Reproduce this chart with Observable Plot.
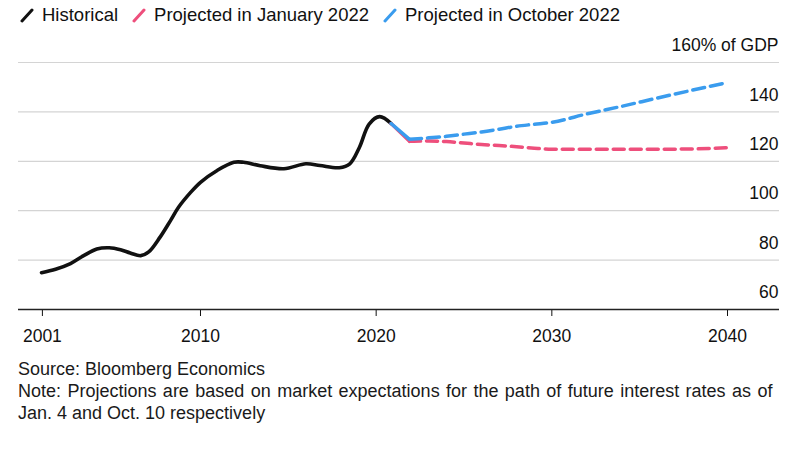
<!DOCTYPE html>
<html>
<head>
<meta charset="utf-8">
<script src="https://cdn.jsdelivr.net/npm/d3@7"></script>
<script src="https://cdn.jsdelivr.net/npm/@observablehq/plot@0.6"></script>
<style>
  html, body { margin: 0; padding: 0; background: #fff; }
  body { width: 810px; height: 452px; overflow: hidden; font-family: "Liberation Sans", Arial, sans-serif; color: #111; }
  .legend { height: 30px; display: flex; align-items: center; padding-left: 20px; font-size: 18.5px; }
  .legend .item { display: flex; align-items: center; margin-right: 14px; }
  .legend svg { margin-right: 8px; }
  .footer { font-size: 18px; line-height: 22px; padding-left: 18px; margin-top: 13px; color: #1a1a1a; }
  .footer .note { word-spacing: 1.4px; }
  #chart svg { display: block; }
</style>
</head>
<body>
<div class="legend" id="legend"></div>
<div id="chart"></div>
<div class="footer">
  <div>Source: Bloomberg Economics</div>
  <div class="note">Note: Projections are based on market expectations for the path of future interest rates as of</div>
  <div>Jan. 4 and Oct. 10 respectively</div>
</div>
<script>
// Historical (year, % of GDP)
const histYears  = [2000.95, 2001.75, 2002.6, 2003.35, 2004.1, 2004.8, 2005.45, 2006.0, 2006.6, 2007.05, 2007.7, 2008.3, 2008.75, 2009.45, 2010.0, 2010.95, 2011.9, 2012.45, 2013.4, 2014.75, 2016.0, 2016.8, 2017.9, 2018.5, 2019.05, 2019.6, 2020.2, 2020.85];
const histValues = [74.9,    76.3,    78.6,   81.8,    84.5,   85.0,   84.2,    82.9,   81.8,   83.3,    89.3,   96.1,   101.4,   107.5,   111.5,  116.3,   119.6,  119.6,   118.2,  117.0,   119.0,  118.3,  117.4,   119.0,  125.7,   135.1,  138.1,  135.3];

// Projection bridge (solid) from last historical point to 2022
const bridgeYears = [2020.85, 2021.9];
const janBridge   = [135.3, 128.1];
const octBridge   = [135.3, 128.9];

// Projections (dashed)
const projYears  = [2021.9, 2023, 2024, 2025, 2026, 2027, 2028, 2029, 2030, 2032, 2034, 2036, 2038, 2040];
const janValues  = [128.1, 128.2, 128.0, 127.4, 126.8, 126.4, 125.9, 125.3, 124.9, 124.9, 124.9, 124.9, 125.0, 125.5];
const octValues  = [128.9, 129.5, 130.1, 131.0, 131.9, 133.0, 134.2, 135.0, 135.8, 139.2, 142.3, 145.6, 148.8, 151.9];

const xTicks = [2001, 2010, 2020, 2030, 2040];
const yTicks = [60, 80, 100, 120, 140, 160];
const yLabels = ["60", "80", "100", "120", "140", "160% of GDP"];

const seriesNames = ["Historical", "Projected in January 2022", "Projected in October 2022"];
const seriesColors = ["#111111", "#ee4f7c", "#3a9cee"];

const hist = histYears.map((x, i) => ({x, y: histValues[i]}));
const janB = bridgeYears.map((x, i) => ({x, y: janBridge[i]}));
const octB = bridgeYears.map((x, i) => ({x, y: octBridge[i]}));
const jan = projYears.map((x, i) => ({x, y: janValues[i]}));
const oct = projYears.map((x, i) => ({x, y: octValues[i]}));
const yLab = yTicks.map((v, i) => ({v, label: yLabels[i]}));

// Legend
const legend = document.getElementById("legend");
seriesNames.forEach((name, i) => {
  const item = document.createElement("div");
  item.className = "item";
  item.innerHTML = `<svg width="14" height="16" viewBox="0 0 14 16"><line x1="2" y1="14" x2="12" y2="3" stroke="${seriesColors[i]}" stroke-width="3" stroke-linecap="round"/></svg><span>${name}</span>`;
  legend.appendChild(item);
});

const chart = Plot.plot({
  width: 810,
  height: 315,
  marginLeft: 18,
  marginRight: 31,
  marginTop: 32,
  marginBottom: 36,
  style: {fontFamily: "Liberation Sans, Arial, sans-serif", fontSize: "17.5px", color: "#111", background: "#fff"},
  x: {domain: [1999.64, 2042.96], ticks: xTicks, tickFormat: d => String(d), tickSize: 7, tickPadding: 13, label: null},
  y: {domain: [60, 160], axis: null},
  marks: [
    Plot.ruleY(yTicks.filter(d => d !== 60), {stroke: "#d4d4d4", strokeWidth: 1.2}),
    Plot.text(yLab, {y: "v", text: "label", frameAnchor: "right", textAnchor: "end", dy: -17, dx: -1, fontSize: 17.5, fill: "#111"}),
    Plot.ruleY([60], {stroke: "#222", strokeWidth: 1.3}),
    Plot.line(hist, {x: "x", y: "y", stroke: seriesColors[0], strokeWidth: 3.6, curve: "catmull-rom"}),
    Plot.line(janB, {x: "x", y: "y", stroke: seriesColors[1], strokeWidth: 3.5}),
    Plot.line(octB, {x: "x", y: "y", stroke: seriesColors[2], strokeWidth: 3.5}),
    Plot.line(jan, {x: "x", y: "y", stroke: seriesColors[1], strokeWidth: 3.5, strokeDasharray: "11,6", curve: "monotone-x"}),
    Plot.line(oct, {x: "x", y: "y", stroke: seriesColors[2], strokeWidth: 3.5, strokeDasharray: "12,6", curve: "monotone-x"})
  ]
});
document.getElementById("chart").appendChild(chart);
</script>
</body>
</html>
